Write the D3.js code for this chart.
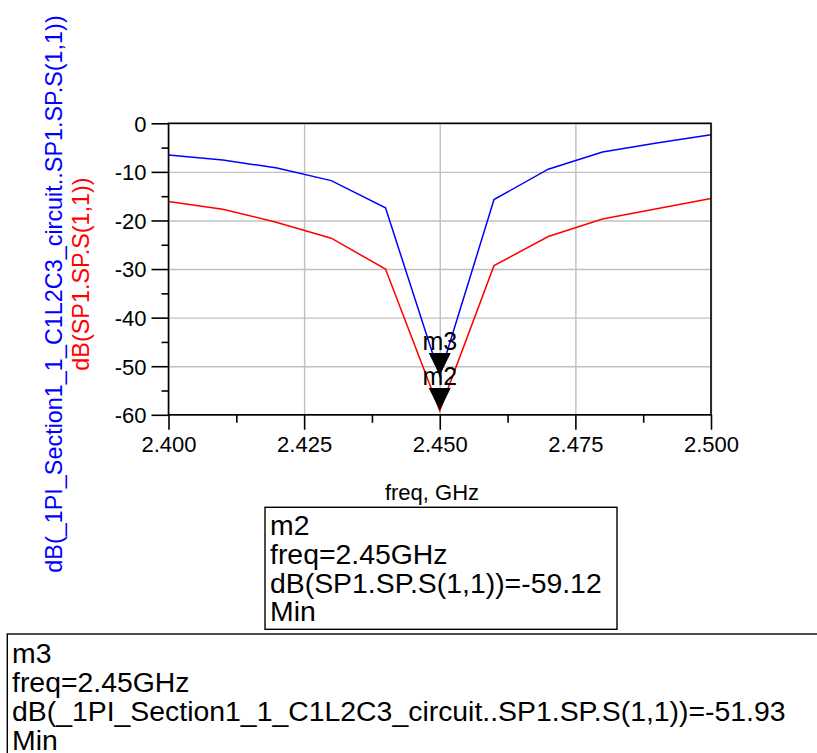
<!DOCTYPE html>
<html><head><meta charset="utf-8">
<script src="https://cdn.jsdelivr.net/npm/d3@7"></script>
<style>body{margin:0;background:#fff}svg{display:block;font-family:"Liberation Sans",Arial,Helvetica,sans-serif}</style>
</head><body><svg id="c" width="817" height="753"></svg>
<script>
const freqGHz = [2.40, 2.41, 2.42, 2.43, 2.44, 2.45, 2.46, 2.47, 2.48, 2.49, 2.50];
const dbCircuit = [-6.5, -7.55, -9.2, -11.8, -17.4, -51.93, -15.7, -9.45, -5.9, -4.05, -2.35];
const dbSP1 = [-16.1, -17.7, -20.4, -23.65, -30.0, -59.12, -29.3, -23.3, -19.7, -17.6, -15.5];
const yTickValues = [0, -10, -20, -30, -40, -50, -60];
const yMinorTicks = [-5, -15, -25, -35, -45, -55];
const xTickValues = [2.400, 2.425, 2.450, 2.475, 2.500];
const xMinorTicks = [2.4125, 2.4375, 2.4625, 2.4875];
const markerNames = ["m3", "m2"];
const markerFreq = [2.45, 2.45];
const markerDb = [-51.93, -59.12];
const m2Lines = ["m2", "freq=2.45GHz", "dB(SP1.SP.S(1,1))=-59.12", "Min"];
const m3Lines = ["m3", "freq=2.45GHz", "dB(_1PI_Section1_1_C1L2C3_circuit..SP1.SP.S(1,1))=-51.93", "Min"];
const blueLabel = "dB(_1PI_Section1_1_C1L2C3_circuit..SP1.SP.S(1,1))";
const redLabel = "dB(SP1.SP.S(1,1))";
const xAxisTitle = "freq, GHz";

const svg = d3.select("#c");
const L = 168.5, R = 711, T = 123.3, B = 414.8;
const x = d3.scaleLinear().domain([2.4, 2.5]).range([L, R]);
const y = d3.scaleLinear().domain([0, -60]).range([T, B]);

// gridlines
const grid = svg.append("g");
grid.append("g").attr("transform", `translate(${L},0)`)
  .call(d3.axisLeft(y).tickValues(yTickValues).tickSize(-(R - L)).tickFormat(""))
  .call(g => g.select(".domain").remove())
  .call(g => g.selectAll("line").attr("stroke", "#c0c0c0").attr("stroke-width", 1.4));
grid.append("g").attr("transform", `translate(0,${B})`)
  .call(d3.axisBottom(x).tickValues(xTickValues).tickSize(-(B - T)).tickFormat(""))
  .call(g => g.select(".domain").remove())
  .call(g => g.selectAll("line").attr("stroke", "#c0c0c0").attr("stroke-width", 1.4));

// data lines
const line = d3.line().x((d, i) => x(freqGHz[i])).y(d => y(d));
svg.append("path").datum(dbSP1).attr("d", line).attr("fill", "none").attr("stroke", "#ff0000").attr("stroke-width", 1.5);
svg.append("path").datum(dbCircuit).attr("d", line).attr("fill", "none").attr("stroke", "#0000ff").attr("stroke-width", 1.5);

// frame
svg.append("rect").attr("x", L).attr("y", T).attr("width", R - L).attr("height", B - T)
  .attr("fill", "none").attr("stroke", "#000").attr("stroke-width", 1.6);

// axes
const yAx = svg.append("g").attr("transform", `translate(${L},0)`)
  .call(d3.axisLeft(y).tickValues(yTickValues).tickSize(17).tickPadding(5).tickFormat(d3.format("d")));
yAx.select(".domain").remove();
yAx.selectAll("line").attr("stroke", "#000").attr("stroke-width", 1.6);
yAx.selectAll("text").attr("font-size", 22).attr("font-family", "Liberation Sans, Arial, sans-serif").attr("fill", "#000").attr("dy", "0.36em")
  .text(d => d === 0 ? "0" : String(d));
const yMin = svg.append("g").attr("transform", `translate(${L},0)`)
  .call(d3.axisLeft(y).tickValues(yMinorTicks).tickSize(7).tickFormat(""));
yMin.select(".domain").remove();
yMin.selectAll("line").attr("stroke", "#000").attr("stroke-width", 1.6);

const xAx = svg.append("g").attr("transform", `translate(0,${B})`)
  .call(d3.axisBottom(x).tickValues(xTickValues).tickSize(15).tickPadding(7).tickFormat(d3.format(".3f")));
xAx.select(".domain").remove();
xAx.selectAll("line").attr("stroke", "#000").attr("stroke-width", 1.6);
xAx.selectAll("text").attr("font-size", 22).attr("font-family", "Liberation Sans, Arial, sans-serif").attr("fill", "#000");
const xMin = svg.append("g").attr("transform", `translate(0,${B})`)
  .call(d3.axisBottom(x).tickValues(xMinorTicks).tickSize(8).tickFormat(""));
xMin.select(".domain").remove();
xMin.selectAll("line").attr("stroke", "#000").attr("stroke-width", 1.6);

// x axis title
svg.append("text").attr("x", 432).attr("y", 500).attr("text-anchor", "middle")
  .attr("font-size", 22).text(xAxisTitle);

// y axis titles
svg.append("text").attr("transform", "translate(62,294) rotate(-90)").attr("text-anchor", "middle")
  .attr("font-size", 23.4).attr("fill", "#0000ff").text(blueLabel);
svg.append("text").attr("transform", "translate(88.5,274) rotate(-90)").attr("text-anchor", "middle")
  .attr("font-size", 23.4).attr("fill", "#ff0000").text(redLabel);

// markers
markerNames.forEach((name, i) => {
  const px = x(markerFreq[i]), py = y(markerDb[i]);
  svg.append("path").attr("d", `M${px - 11},${py - 22.5}L${px + 11},${py - 22.5}L${px},${py}Z`).attr("fill", "#000");
});
markerNames.forEach((name, i) => {
  const px = x(markerFreq[i]), py = y(markerDb[i]);
  svg.append("text").attr("x", px).attr("y", py - 26).attr("text-anchor", "middle")
    .attr("font-size", 25).attr("fill", "#000").text(name);
});

// marker readout boxes
function box(lines, bx, by, bw, bh, tx, firstBase, step) {
  svg.append("rect").attr("x", bx).attr("y", by).attr("width", bw).attr("height", bh)
    .attr("fill", "#fff").attr("stroke", "#000").attr("stroke-width", 1.4);
  lines.forEach((t, i) => {
    svg.append("text").attr("x", tx).attr("y", firstBase + i * step).attr("font-size", 28.4).attr("fill", "#000").text(t);
  });
}
box(m2Lines, 265, 507.3, 352, 122, 270, 535, 28.8);
box(m3Lines, 7.3, 634, 830, 140, 12, 663.3, 29);
</script></body></html>
